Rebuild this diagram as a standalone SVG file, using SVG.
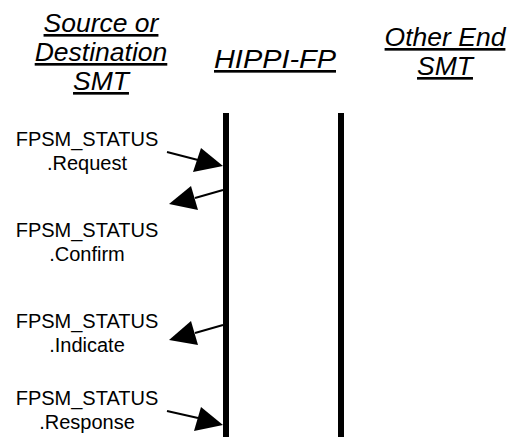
<svg xmlns="http://www.w3.org/2000/svg" width="514" height="437" viewBox="0 0 514 437">
<style>
.hdr{font-family:"Liberation Sans",Arial,sans-serif;font-size:26.5px;font-style:italic;text-anchor:middle;text-decoration:underline;fill:#000}
.lbl{font-family:"Liberation Sans",Arial,sans-serif;font-size:20px;text-anchor:middle;fill:#000}
.life{stroke:#000;stroke-width:6}
.msg{stroke:#000;stroke-width:2;fill:none}
</style>
<rect width="514" height="437" fill="#fff"/>
<g id="source-smt">
<text class="hdr" x="101" y="32">Source or</text>
<text class="hdr" x="101" y="61">Destination</text>
<text class="hdr" x="101" y="90">SMT</text>
<line class="life" x1="226" y1="113" x2="226" y2="437"/>
</g>
<g id="hippi-fp">
<text class="hdr" x="275" y="68" textLength="122" lengthAdjust="spacingAndGlyphs">HIPPI-FP</text>
<line class="life" x1="341" y1="113" x2="341" y2="437"/>
</g>
<g id="other-end-smt">
<text class="hdr" x="445" y="46">Other End</text>
<text class="hdr" x="445" y="75">SMT</text>
</g>
<g id="labels">
<text class="lbl" x="87" y="146">FPSM_STATUS</text>
<text class="lbl" x="87" y="170">.Request</text>
<text class="lbl" x="87" y="237">FPSM_STATUS</text>
<text class="lbl" x="87" y="261">.Confirm</text>
<text class="lbl" x="87" y="328">FPSM_STATUS</text>
<text class="lbl" x="87" y="352">.Indicate</text>
<text class="lbl" x="87" y="405">FPSM_STATUS</text>
<text class="lbl" x="87" y="429">.Response</text>
</g>
<g id="connectors">
<line class="msg" x1="167" y1="152" x2="198" y2="160"/>
<polygon points="223,166 193,172 201,148"/>
<line class="msg" x1="223" y1="190" x2="195" y2="198"/>
<polygon points="169,204 191,186 198,210"/>
<line class="msg" x1="223" y1="325" x2="195" y2="333"/>
<polygon points="169,340 191,321 198,345"/>
<line class="msg" x1="167" y1="411" x2="198" y2="418"/>
<polygon points="223,425 194,431 201,407"/>
</g>
</svg>
